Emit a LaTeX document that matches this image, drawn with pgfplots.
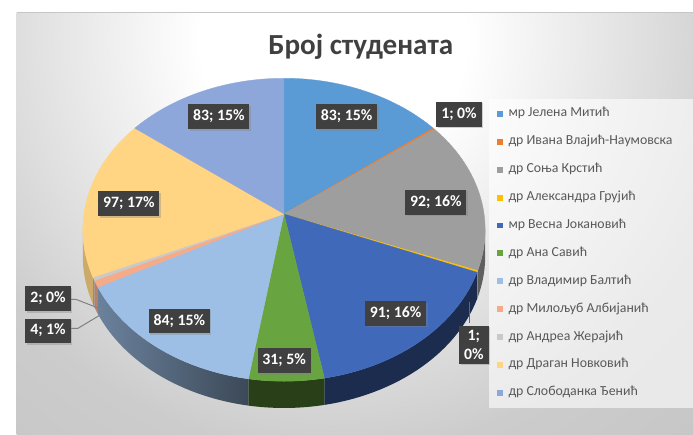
\documentclass[border=0pt]{standalone}
\usepackage{fontspec}
\setmainfont{Carlito}
\usepackage{pgfplots}
\pgfplotsset{compat=1.18}
\usetikzlibrary{shadows}

\definecolor{c1}{HTML}{5B9BD5}
\definecolor{c2}{HTML}{ED7D31}
\definecolor{c3}{HTML}{9E9E9E}
\definecolor{c4}{HTML}{FFC000}
\definecolor{c5}{HTML}{4169BA}
\definecolor{c6}{HTML}{68A540}
\definecolor{c7}{HTML}{9DBFE6}
\definecolor{c8}{HTML}{F5AA88}
\definecolor{c9}{HTML}{C9C9C9}
\definecolor{c10}{HTML}{FFD583}
\definecolor{c11}{HTML}{8EA7DA}
\definecolor{labelbg}{HTML}{404040}
\definecolor{titlec}{HTML}{404040}
\definecolor{legc}{HTML}{595959}

\tikzset{
  side1/.style={fill=c1!50!black},
  side2/.style={fill=c2!60!black},
  side3/.style={fill=c3!60!black},
  side4/.style={fill=c4!70!black},
  side5/.style={fill=c5!42!black},
  side6/.style={fill=c6!38!black},
  side7/.style={left color=c7!68!black, right color=c7!38!black},
  side8/.style={fill=c8!75!black},
  side9/.style={fill=c9!70!black},
  side10/.style={fill=c10!80!black},
  side11/.style={fill=c11!50!black},
  lbl/.style={fill=labelbg, text=white, font=\fontsize{16}{19}\selectfont\bfseries,
    inner xsep=5bp, inner ysep=5.5bp, text height=11bp, text depth=3bp,
    drop shadow={opacity=0.35, shadow xshift=1.5bp, shadow yshift=-1.5bp}},
}

% data: number of students per lecturer (pie order, clockwise from 12 o'clock)
\def\pievalues{83,1,92,1,91,31,84,4,2,97,83}

\pgfdeclareradialshading{chartbg}{\pgfpoint{0bp}{0bp}}{color(0bp)=(white); color(5.6bp)=(white); color(17.5bp)=(gray!40); color(25bp)=(gray!46); color(50bp)=(gray!46)}

\begin{document}
% cumulative angles from the data
\newcount\pien
\gdef\pietotal{0}
\foreach \v in \pievalues {\pgfmathsetmacro\pietmp{\pietotal+\v}\xdef\pietotal{\pietmp}}
\gdef\piecum{0}
\global\pien=0
\foreach \v in \pievalues {%
  \global\advance\pien by 1
  \pgfmathsetmacro\pies{\piecum/\pietotal*360}%
  \pgfmathsetmacro\piec{\piecum+\v}%
  \pgfmathsetmacro\piee{\piec/\pietotal*360}%
  \expandafter\xdef\csname pieS\the\pien\endcsname{\pies}%
  \expandafter\xdef\csname pieE\the\pien\endcsname{\piee}%
  \xdef\piecum{\piec}%
}%
\begin{tikzpicture}[x=1bp,y=1bp]
\path[use as bounding box] (0,0) rectangle (693,439);
% chart area background
\begin{scope}
  \clip (10,0) rectangle (693,426);
  \shade[shading=chartbg] (330,400) circle (600);
\end{scope}
\draw[gray!45, line width=0.8bp] (10,426) -- (693,426);
% legend background
\fill[white, opacity=0.6] (486.7,27.3) rectangle (693,339);

\begin{axis}[
  scale only axis, width=693bp, height=439bp,
  xmin=0, xmax=693, ymin=0, ymax=439,
  hide axis, clip=false,
  declare function={
    px(\t)=280+202*sin(\t)/(1+0.1046*cos(\t));
    py(\t)=223+151.3*cos(\t)/(1+0.1046*cos(\t));
  },
]
% visible sides (front rim)
\pgfplotsinvokeforeach{1,...,11}{%
  \edef\pa{\csname pieS#1\endcsname}\edef\pb{\csname pieE#1\endcsname}%
  \pgfmathsetmacro\pla{max(\pa,96.004)}%
  \pgfmathsetmacro\plb{min(\pb,263.996)}%
  \pgfmathparse{int(\plb>\pla)}%
  \ifnum\pgfmathresult=1
    \addplot[side#1, draw=none, domain=0:3, samples=91]
      ({px(\pla+(\plb-\pla)*min(x,1,3-x))},
       {py(\pla+(\plb-\pla)*min(x,1,3-x))-27*max(0,min(x-1,1))}) -- cycle;
  \fi
}
% top faces
\pgfplotsinvokeforeach{1,...,11}{%
  \edef\pa{\csname pieS#1\endcsname}\edef\pb{\csname pieE#1\endcsname}%
  \addplot[fill=c#1, draw=c#1, line width=0.3bp, domain=\pa:\pb, samples=60]
    ({px(x)},{py(x)}) -- (axis cs:280,223) -- cycle;
}
% leader lines
\draw[gray, line width=1bp] (axis cs:65,136.7) -- (axis cs:70,136.7) -- (axis cs:96.7,126.3);
\draw[gray, line width=1bp] (axis cs:65,107.3) -- (axis cs:71.7,107.3) -- (axis cs:96.7,122.3);
\draw[gray!80!black, line width=1bp] (axis cs:467.3,113) -- (axis cs:467.3,134);
% data labels
\node[lbl] at (axis cs:343.3,321.2) {83; 15\%};
\node[lbl] at (axis cs:456.7,323.5) {1; 0\%};
\node[lbl] at (axis cs:433.3,234.8) {92; 16\%};
\node[lbl, align=center, text height=, text depth=, inner ysep=4bp, font=\fontsize{16}{20}\selectfont\bfseries] at (axis cs:471.7,90.7) {1;\\0\%};
\node[lbl] at (axis cs:392.8,122.3) {91; 16\%};
\node[lbl] at (axis cs:280.2,74.8) {31; 5\%};
\node[lbl] at (axis cs:174.3,114.8) {84; 15\%};
\node[lbl] at (axis cs:41.7,104.8) {4; 1\%};
\node[lbl] at (axis cs:41.7,137.3) {2; 0\%};
\node[lbl] at (axis cs:123.3,233.2) {97; 17\%};
\node[lbl] at (axis cs:214.2,321.2) {83; 15\%};
% title
\node[anchor=base, text=titlec, font=\fontsize{29.5}{33}\selectfont\bfseries] at (axis cs:357.5,384) {Број студената};
\end{axis}

% legend
\foreach \i/\nm in {1/мр Јелена Митић, 2/др Ивана Влајић-Наумовска, 3/др Соња Крстић, 4/др Александра Грујић, 5/мр Весна Јокановић, 6/др Ана Савић, 7/др Владимир Балтић, 8/др Милољуб Албијанић, 9/др Андреа Жерајић, 10/др Драган Новковић, 11/др Слободанка Ђенић} {
  \pgfmathsetmacro\ly{324-(\i-1)*28.17}
  \fill[c\i] (495.5,\ly-3) rectangle (501.5,\ly+3);
  \node[anchor=west, inner sep=0pt, text=legc, font=\fontsize{14}{16}\selectfont, text height=9bp, text depth=3bp] at (506.5,\ly) {\nm};
}
\end{tikzpicture}
\end{document}
